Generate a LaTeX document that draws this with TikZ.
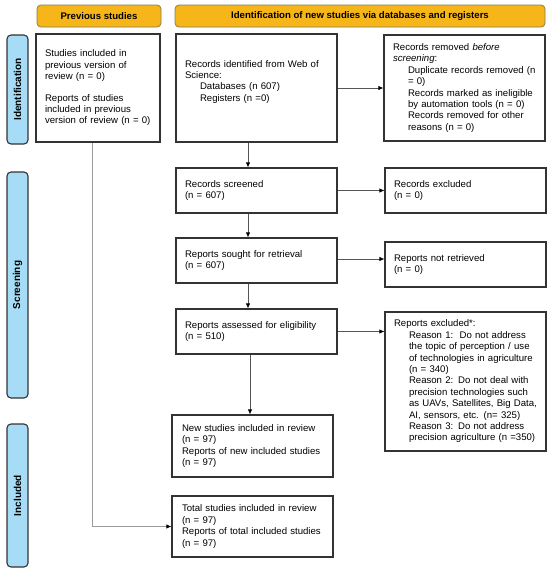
\documentclass[tikz,border=0pt]{standalone}
\usepackage{fontspec}
\setmainfont{Liberation Sans}
\usetikzlibrary{arrows.meta}
\definecolor{hdrfill}{HTML}{F6B519}
\definecolor{hdrdraw}{HTML}{8A7A4A}
\definecolor{sidefill}{HTML}{A6DCF5}
\definecolor{boxc}{HTML}{333333}
\definecolor{arrc}{HTML}{555555}
\definecolor{lightarr}{HTML}{999999}
\newcommand{\fs}{\fontsize{9.6}{11.4}\selectfont}
\newcommand{\ind}{\hspace*{15pt}}
\begin{document}
\begin{tikzpicture}[x=1pt,y=-1pt,
  box/.style={draw=boxc, line width=1.1pt, fill=white, align=left, inner xsep=9pt, inner ysep=0pt, font=\fs, text=black},
  hdr/.style={draw=hdrdraw, line width=0.8pt, fill=hdrfill, rounded corners=4pt, font=\fs\bfseries, inner sep=0pt, minimum height=22pt},
  side/.style={draw=boxc, line width=1.1pt, fill=sidefill, rounded corners=4pt, rotate=90, font=\fontsize{10}{12}\selectfont\bfseries, inner sep=0pt, minimum height=21pt},
  arr/.style={draw=arrc, line width=0.8pt, -{Latex[length=5pt,width=4.5pt,color=black]}},
  larr/.style={draw=lightarr, line width=0.8pt, -{Latex[length=5pt,width=4.5pt,color=black]}}
]
\useasboundingbox (0,0) rectangle (550,573);

\node[hdr, minimum width=124pt] (h1) at (99,16) {Previous studies};
\node[hdr, minimum width=370pt] (h2) at (360,16) {Identification of new studies via databases and registers};

\node[side, minimum width=109pt] (s1) at (17.5,89.5) {Identification};
\node[side, minimum width=226pt] (s2) at (17.5,285) {Screening};
\node[side, minimum width=143pt] (s3) at (17.5,495.5) {Included};

\node[box, text width=106pt, minimum height=108pt] (prev) at (98,88) {Studies included in\\previous version of\\review (n = 0)\\[10pt]Reports of studies\\included in previous\\version of review (n = 0)};

\node[box, text width=143pt, minimum height=108pt] (ident) at (256.5,88) {Records identified from Web of\\Science:\\\ind Databases (n 607)\\\ind Registers (n =0)\\[3pt]\mbox{}};

\node[box, text width=143pt, minimum height=106pt] (removed) at (464.5,88) {Records removed \textit{before}\\\textit{screening}:\\\ind Duplicate records removed (n\\\ind = 0)\\\ind Records marked as ineligible\\\ind by automation tools (n = 0)\\\ind Records removed for other\\\ind reasons (n = 0)};

\node[box, text width=143pt, minimum height=45pt] (screened) at (256.5,190.5) {Records screened\\(n = 607)};
\node[box, text width=143pt, minimum height=45pt] (excluded) at (465.5,190.5) {Records excluded\\(n = 0)};

\node[box, text width=143pt, minimum height=45pt] (sought) at (256.5,260.5) {Reports sought for retrieval\\(n = 607)};
\node[box, text width=143pt, minimum height=45pt] (notretr) at (465.5,264.5) {Reports not retrieved\\(n = 0)};

\node[box, text width=143pt, minimum height=45pt] (assessed) at (256.5,331.5) {Reports assessed for eligibility\\(n = 510)};
\node[box, text width=143pt, minimum height=139pt] (repexcl) at (465.5,381.5) {Reports excluded*:\\\ind Reason 1:\ \ Do not address\\\ind the topic of perception / use\\\ind of technologies in agriculture\\\ind (n = 340)\\\ind Reason 2: Do not deal with\\\ind precision technologies such\\\ind as UAVs, Satellites, Big Data,\\\ind AI, sensors, etc. (n= 325)\\\ind Reason 3: Do not address\\\ind precision agriculture (n =350)};

\node[box, inner xsep=10pt, text width=141pt, minimum height=62pt] (newst) at (252.5,446) {New studies included in review\\(n = 97)\\Reports of new included studies\\(n = 97)};
\node[box, inner xsep=10pt, text width=141pt, minimum height=61pt] (total) at (252.5,526.5) {Total studies included in review\\(n = 97)\\Reports of total included studies\\(n = 97)};

\draw[arr] (ident.east) -- (ident.east -| removed.west);
\draw[arr] (screened.east) -- (screened.east -| excluded.west);
\draw[arr] ([yshift=1.5]sought.east) -- ([yshift=1.5]sought.east -| notretr.west);
\draw[arr] (assessed.east) -- (assessed.east -| repexcl.west);

\draw[arr] ([xshift=-8.5]ident.south) -- ([xshift=-8.5]screened.north);
\draw[arr] ([xshift=-8.5]screened.south) -- ([xshift=-8.5]sought.north);
\draw[arr] ([xshift=-8.5]sought.south) -- ([xshift=-8.5]assessed.north);
\draw[arr] ([xshift=-6.5]assessed.south) -- ([xshift=-2.5]newst.north);
\draw[larr] ([xshift=-6]prev.south) |- (total.west);
\end{tikzpicture}
\end{document}
